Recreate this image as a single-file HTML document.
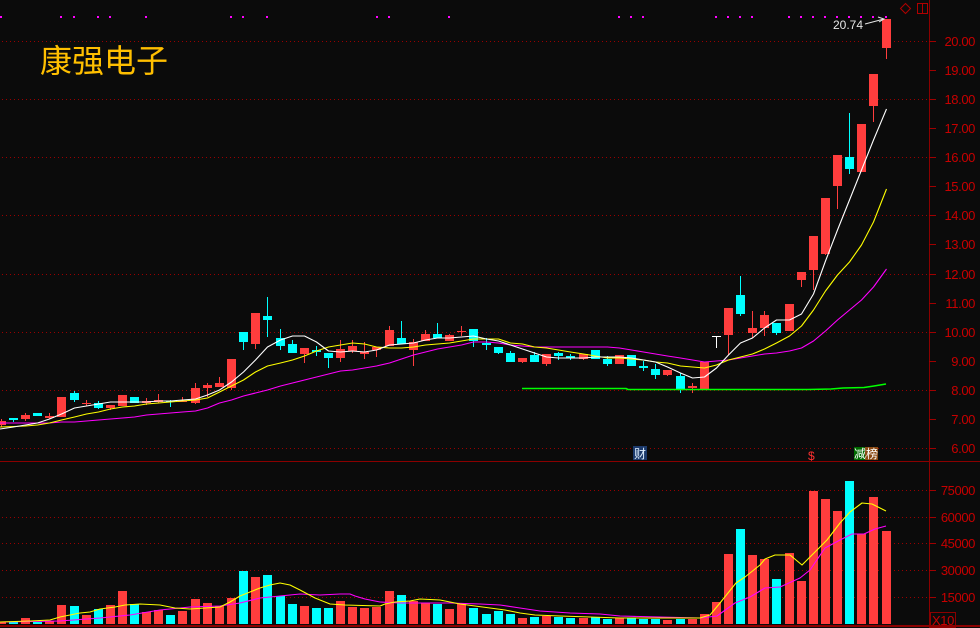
<!DOCTYPE html>
<html><head><meta charset="utf-8"><style>
html,body{margin:0;padding:0;background:#0b0b0b;}
svg{display:block;}
.r{fill:#ff3d3d}.c{fill:#00ffff}.w{fill:#ffffff}
.ax{font-family:"Liberation Sans",sans-serif;font-size:13px;fill:#c80000;letter-spacing:-0.4px}
</style></head><body>
<svg width="980" height="628" viewBox="0 0 980 628" xmlns="http://www.w3.org/2000/svg">
<rect width="980" height="628" fill="#0b0b0b"/>
<g stroke="#9a0000" stroke-width="1" stroke-dasharray="1 3">
<line x1="2" y1="41.5" x2="929" y2="41.5"/><line x1="2" y1="99.5" x2="929" y2="99.5"/><line x1="2" y1="157.5" x2="929" y2="157.5"/><line x1="2" y1="215.5" x2="929" y2="215.5"/><line x1="2" y1="274.5" x2="929" y2="274.5"/><line x1="2" y1="332.5" x2="929" y2="332.5"/><line x1="2" y1="390.5" x2="929" y2="390.5"/><line x1="2" y1="448.5" x2="929" y2="448.5"/>
<line x1="2" y1="490.5" x2="929" y2="490.5"/><line x1="2" y1="517.5" x2="929" y2="517.5"/><line x1="2" y1="543.5" x2="929" y2="543.5"/><line x1="2" y1="570.5" x2="929" y2="570.5"/><line x1="2" y1="597.5" x2="929" y2="597.5"/>
</g>
<g fill="#ff00ff" shape-rendering="crispEdges">
<rect x="0" y="16" width="2" height="2"/><rect x="60" y="16" width="2" height="2"/><rect x="73" y="16" width="2" height="2"/><rect x="97" y="16" width="2" height="2"/><rect x="109" y="16" width="2" height="2"/><rect x="145" y="16" width="2" height="2"/><rect x="230" y="16" width="2" height="2"/><rect x="242" y="16" width="2" height="2"/><rect x="266" y="16" width="2" height="2"/><rect x="376" y="16" width="2" height="2"/><rect x="388" y="16" width="2" height="2"/><rect x="448" y="16" width="2" height="2"/><rect x="618" y="16" width="2" height="2"/><rect x="630" y="16" width="2" height="2"/><rect x="642" y="16" width="2" height="2"/><rect x="715" y="16" width="2" height="2"/><rect x="727" y="16" width="2" height="2"/><rect x="739" y="16" width="2" height="2"/><rect x="751" y="16" width="2" height="2"/><rect x="788" y="16" width="2" height="2"/><rect x="800" y="16" width="2" height="2"/><rect x="812" y="16" width="2" height="2"/><rect x="824" y="16" width="2" height="2"/><rect x="836" y="16" width="2" height="2"/><rect x="848" y="16" width="2" height="2"/><rect x="860" y="16" width="2" height="2"/><rect x="872" y="16" width="2" height="2"/><rect x="885" y="16" width="2" height="2"/>
</g>
<text x="40" y="72" font-family="'Liberation Sans','Noto Sans CJK SC',sans-serif" font-size="32" fill="#ffbf00">康强电子</text>
<!-- candles -->
<g shape-rendering="crispEdges">
<rect class="r" x="-3" y="421" width="9" height="4"/><rect class="r" x="1" y="419" width="1" height="8"/>
<rect class="c" x="9" y="418" width="9" height="2"/><rect class="c" x="13" y="418" width="1" height="4"/>
<rect class="r" x="21" y="415" width="9" height="4"/><rect class="r" x="25" y="413" width="1" height="8"/>
<rect class="c" x="33" y="413" width="9" height="3"/>
<rect class="r" x="45" y="416" width="9" height="2"/><rect class="r" x="49" y="413" width="1" height="6"/>
<rect class="r" x="57" y="397" width="9" height="20"/>
<rect class="c" x="70" y="393" width="9" height="7"/><rect class="c" x="74" y="391" width="1" height="11"/>
<rect class="r" x="82" y="403" width="9" height="1"/><rect class="r" x="86" y="400" width="1" height="6"/>
<rect class="c" x="94" y="403" width="9" height="5"/><rect class="c" x="98" y="401" width="1" height="8"/>
<rect class="r" x="106" y="405" width="9" height="3"/><rect class="r" x="110" y="405" width="1" height="5"/>
<rect class="r" x="118" y="395" width="9" height="11"/>
<rect class="c" x="130" y="397" width="9" height="6"/>
<rect class="r" x="142" y="401" width="9" height="2"/><rect class="r" x="146" y="398" width="1" height="7"/>
<rect class="r" x="154" y="400" width="9" height="2"/><rect class="r" x="158" y="394" width="1" height="9"/>
<rect class="c" x="166" y="401" width="9" height="1"/><rect class="c" x="170" y="400" width="1" height="7"/>
<rect class="r" x="178" y="401" width="9" height="1"/><rect class="r" x="182" y="397" width="1" height="5"/>
<rect class="r" x="191" y="388" width="9" height="15"/><rect class="r" x="195" y="383" width="1" height="21"/>
<rect class="r" x="203" y="385" width="9" height="3"/><rect class="r" x="207" y="383" width="1" height="14"/>
<rect class="r" x="215" y="383" width="9" height="4"/><rect class="r" x="219" y="377" width="1" height="10"/>
<rect class="r" x="227" y="359" width="9" height="29"/><rect class="r" x="231" y="359" width="1" height="31"/>
<rect class="c" x="239" y="332" width="9" height="10"/><rect class="c" x="243" y="332" width="1" height="18"/>
<rect class="r" x="251" y="313" width="9" height="31"/><rect class="r" x="255" y="313" width="1" height="36"/>
<rect class="c" x="263" y="316" width="9" height="4"/><rect class="c" x="267" y="297" width="1" height="40"/>
<rect class="c" x="276" y="338" width="9" height="8"/><rect class="c" x="280" y="329" width="1" height="21"/>
<rect class="c" x="288" y="344" width="9" height="9"/><rect class="c" x="292" y="340" width="1" height="13"/>
<rect class="r" x="300" y="348" width="9" height="6"/><rect class="r" x="304" y="348" width="1" height="15"/>
<rect class="c" x="312" y="350" width="9" height="2"/><rect class="c" x="316" y="346" width="1" height="10"/>
<rect class="c" x="324" y="353" width="9" height="5"/><rect class="c" x="328" y="353" width="1" height="15"/>
<rect class="r" x="336" y="349" width="9" height="9"/><rect class="r" x="340" y="340" width="1" height="22"/>
<rect class="r" x="348" y="346" width="9" height="5"/><rect class="r" x="352" y="340" width="1" height="13"/>
<rect class="r" x="360" y="352" width="9" height="2"/><rect class="r" x="364" y="342" width="1" height="17"/>
<rect class="r" x="372" y="347" width="9" height="3"/><rect class="r" x="376" y="347" width="1" height="10"/>
<rect class="r" x="385" y="330" width="9" height="16"/><rect class="r" x="389" y="326" width="1" height="20"/>
<rect class="c" x="397" y="338" width="9" height="6"/><rect class="c" x="401" y="321" width="1" height="23"/>
<rect class="r" x="409" y="342" width="9" height="8"/><rect class="r" x="413" y="339" width="1" height="27"/>
<rect class="r" x="421" y="334" width="9" height="7"/><rect class="r" x="425" y="330" width="1" height="11"/>
<rect class="c" x="433" y="334" width="9" height="4"/><rect class="c" x="437" y="323" width="1" height="15"/>
<rect class="r" x="445" y="335" width="9" height="6"/><rect class="r" x="449" y="334" width="1" height="7"/>
<rect class="r" x="457" y="331" width="9" height="1"/><rect class="r" x="461" y="326" width="1" height="10"/>
<rect class="c" x="469" y="329" width="9" height="12"/><rect class="c" x="473" y="329" width="1" height="18"/>
<rect class="c" x="482" y="343" width="9" height="2"/><rect class="c" x="486" y="338" width="1" height="12"/>
<rect class="c" x="494" y="347" width="9" height="6"/><rect class="c" x="498" y="347" width="1" height="7"/>
<rect class="c" x="506" y="353" width="9" height="9"/><rect class="c" x="510" y="351" width="1" height="11"/>
<rect class="r" x="518" y="358" width="9" height="4"/><rect class="r" x="522" y="358" width="1" height="5"/>
<rect class="c" x="530" y="355" width="9" height="7"/><rect class="c" x="534" y="352" width="1" height="10"/>
<rect class="r" x="542" y="354" width="9" height="10"/><rect class="r" x="546" y="354" width="1" height="12"/>
<rect class="c" x="554" y="353" width="9" height="3"/><rect class="c" x="558" y="352" width="1" height="8"/>
<rect class="c" x="566" y="356" width="9" height="2"/><rect class="c" x="570" y="354" width="1" height="6"/>
<rect class="r" x="579" y="354" width="9" height="5"/><rect class="r" x="583" y="354" width="1" height="6"/>
<rect class="c" x="591" y="350" width="9" height="9"/>
<rect class="c" x="603" y="359" width="9" height="5"/><rect class="c" x="607" y="356" width="1" height="10"/>
<rect class="r" x="615" y="355" width="9" height="9"/>
<rect class="c" x="627" y="355" width="9" height="11"/>
<rect class="c" x="639" y="366" width="9" height="2"/><rect class="c" x="643" y="361" width="1" height="10"/>
<rect class="c" x="651" y="369" width="9" height="6"/><rect class="c" x="655" y="364" width="1" height="15"/>
<rect class="r" x="663" y="370" width="9" height="5"/><rect class="r" x="667" y="370" width="1" height="6"/>
<rect class="c" x="676" y="376" width="9" height="13"/><rect class="c" x="680" y="373" width="1" height="20"/>
<rect class="r" x="688" y="386" width="9" height="2"/><rect class="r" x="692" y="383" width="1" height="10"/>
<rect class="r" x="700" y="362" width="9" height="28"/>
<rect class="w" x="712" y="336" width="9" height="1"/><rect class="w" x="716" y="336" width="1" height="12"/>
<rect class="r" x="724" y="308" width="9" height="27"/><rect class="r" x="728" y="308" width="1" height="47"/>
<rect class="c" x="736" y="295" width="9" height="19"/><rect class="c" x="740" y="276" width="1" height="40"/>
<rect class="r" x="748" y="328" width="9" height="5"/><rect class="r" x="752" y="311" width="1" height="27"/>
<rect class="r" x="760" y="315" width="9" height="13"/><rect class="r" x="764" y="311" width="1" height="25"/>
<rect class="c" x="772" y="323" width="9" height="10"/><rect class="c" x="776" y="323" width="1" height="12"/>
<rect class="r" x="785" y="304" width="9" height="27"/>
<rect class="r" x="797" y="272" width="9" height="8"/><rect class="r" x="801" y="272" width="1" height="15"/>
<rect class="r" x="809" y="236" width="9" height="34"/><rect class="r" x="813" y="236" width="1" height="54"/>
<rect class="r" x="821" y="198" width="9" height="56"/><rect class="r" x="825" y="198" width="1" height="57"/>
<rect class="r" x="833" y="155" width="9" height="31"/><rect class="r" x="837" y="155" width="1" height="54"/>
<rect class="c" x="845" y="157" width="9" height="12"/><rect class="c" x="849" y="113" width="1" height="61"/>
<rect class="r" x="857" y="124" width="9" height="48"/>
<rect class="r" x="869" y="74" width="9" height="32"/><rect class="r" x="873" y="74" width="1" height="48"/>
<rect class="r" x="882" y="19" width="9" height="29"/><rect class="r" x="886" y="19" width="1" height="40"/>
</g>
<!-- MA lines -->
<g fill="none" stroke-width="1.1" stroke-linejoin="round">
<polyline stroke="#ff00ff" points="0,423 13.5,423 25.5,423 37.5,423 49.5,423 61.5,422 74.5,422 86.5,421 98.5,420 110.5,419 122.5,418 134.5,417 146.5,415 158.5,414 170.5,413 182.5,412 195.5,411 207.5,408 219.5,403 231.5,400 243.5,396 255.5,393 267.5,390 280.5,386 292.5,383 304.5,380 316.5,377 328.5,374 340.5,371 352.5,370 364.5,368 376.5,366 389.5,363 401.5,359 413.5,355 425.5,352 437.5,349 449.5,347 461.5,345 473.5,342 486.5,342 498.5,343 510.5,345 522.5,346 534.5,347 546.5,347 558.5,347 570.5,347 583.5,347 595.5,347 607.5,347 619.5,348 631.5,350 643.5,352 655.5,354 667.5,356 680.5,358 692.5,360 704.5,362 716.5,361 728.5,360 740.5,358 752.5,356 764.5,354 776.5,353 789.5,351 801.5,348 813.5,341 825.5,331 837.5,320 849.5,310 861.5,300 873.5,287 886.5,269"/>
<polyline stroke="#ffff00" points="0,427 13.5,426.5 25.5,426 37.5,425 49.5,423 61.5,420 74.5,417 86.5,414 98.5,412 110.5,409 122.5,407 134.5,406 146.5,404 158.5,403 170.5,402 182.5,401 195.5,400 207.5,398 219.5,392 231.5,386 243.5,380 255.5,372 267.5,366 280.5,363 292.5,360 304.5,356 316.5,351 328.5,347 340.5,345 352.5,343 364.5,344 376.5,347 389.5,348 401.5,348 413.5,347 425.5,345 437.5,344 449.5,343 461.5,341 473.5,339 486.5,339 498.5,339 510.5,343 522.5,344 534.5,347 546.5,348 558.5,350 570.5,352 583.5,354 595.5,356 607.5,358 619.5,358 631.5,359 643.5,360 655.5,362 667.5,363 680.5,366 692.5,367 704.5,368 716.5,365 728.5,360 740.5,357 752.5,354 764.5,349 776.5,343 789.5,336 801.5,326 813.5,310 825.5,291 837.5,275 849.5,262 861.5,245 873.5,222 886.5,189"/>
<polyline stroke="#ffffff" points="0,429 13.5,427 25.5,425 37.5,423 49.5,419 61.5,414 74.5,408 86.5,406 98.5,404 110.5,402 122.5,402 134.5,402 146.5,402 158.5,401 170.5,401 182.5,400 195.5,399 207.5,395 219.5,390 231.5,382 243.5,372 255.5,360 267.5,347 280.5,340 292.5,336 304.5,336 316.5,342 328.5,351 340.5,352 352.5,351 364.5,352 376.5,350 389.5,345 401.5,344 413.5,343 425.5,340 437.5,338 449.5,338 461.5,337 473.5,336 486.5,339 498.5,341 510.5,345 522.5,349 534.5,353 546.5,357 558.5,358 570.5,358 583.5,358 595.5,357 607.5,357 619.5,357 631.5,358 643.5,360 655.5,362 667.5,367 680.5,373 692.5,378 704.5,377 716.5,368 728.5,355 740.5,343 752.5,338 764.5,328 776.5,320 789.5,320 801.5,314 813.5,294 825.5,261 837.5,230 849.5,200 861.5,170 873.5,140 886.5,109"/>
<polyline stroke="#00ff00" stroke-width="1.6" points="522,388.5 626,388.5 628,389.5 808,389.5 831,389 843,388 864,387.5 874,386 886,384"/>
</g>
<!-- volume -->
<g shape-rendering="crispEdges">
<rect class="r" x="-3" y="622" width="9" height="2"/><rect class="c" x="9" y="622" width="9" height="2"/><rect class="r" x="21" y="618" width="9" height="6"/><rect class="c" x="33" y="622" width="9" height="2"/><rect class="r" x="45" y="621" width="9" height="3"/><rect class="r" x="57" y="605" width="9" height="19"/><rect class="c" x="70" y="606" width="9" height="18"/><rect class="r" x="82" y="615" width="9" height="9"/><rect class="c" x="94" y="609" width="9" height="15"/><rect class="r" x="106" y="605" width="9" height="19"/><rect class="r" x="118" y="591" width="9" height="33"/><rect class="c" x="130" y="604" width="9" height="20"/><rect class="r" x="142" y="612" width="9" height="12"/><rect class="r" x="154" y="610" width="9" height="14"/><rect class="c" x="166" y="615" width="9" height="9"/><rect class="r" x="178" y="611" width="9" height="13"/><rect class="r" x="191" y="599" width="9" height="25"/><rect class="r" x="203" y="603" width="9" height="21"/><rect class="r" x="215" y="606" width="9" height="18"/><rect class="r" x="227" y="598" width="9" height="26"/><rect class="c" x="239" y="571" width="9" height="53"/><rect class="r" x="251" y="577" width="9" height="47"/><rect class="c" x="263" y="575" width="9" height="49"/><rect class="c" x="276" y="596" width="9" height="28"/><rect class="c" x="288" y="604" width="9" height="20"/><rect class="r" x="300" y="606" width="9" height="18"/><rect class="c" x="312" y="608" width="9" height="16"/><rect class="c" x="324" y="608" width="9" height="16"/><rect class="r" x="336" y="601" width="9" height="23"/><rect class="r" x="348" y="607" width="9" height="17"/><rect class="r" x="360" y="608" width="9" height="16"/><rect class="r" x="372" y="607" width="9" height="17"/><rect class="r" x="385" y="591" width="9" height="33"/><rect class="c" x="397" y="595" width="9" height="29"/><rect class="r" x="409" y="601" width="9" height="23"/><rect class="r" x="421" y="603" width="9" height="21"/><rect class="c" x="433" y="604" width="9" height="20"/><rect class="r" x="445" y="609" width="9" height="15"/><rect class="r" x="457" y="603" width="9" height="21"/><rect class="c" x="469" y="608" width="9" height="16"/><rect class="c" x="482" y="614" width="9" height="10"/><rect class="c" x="494" y="611" width="9" height="13"/><rect class="c" x="506" y="614" width="9" height="10"/><rect class="r" x="518" y="618" width="9" height="6"/><rect class="c" x="530" y="617" width="9" height="7"/><rect class="r" x="542" y="616" width="9" height="8"/><rect class="c" x="554" y="617" width="9" height="7"/><rect class="c" x="566" y="618" width="9" height="6"/><rect class="r" x="579" y="618" width="9" height="6"/><rect class="c" x="591" y="617" width="9" height="7"/><rect class="c" x="603" y="619" width="9" height="5"/><rect class="r" x="615" y="618" width="9" height="6"/><rect class="c" x="627" y="618" width="9" height="6"/><rect class="c" x="639" y="619" width="9" height="5"/><rect class="c" x="651" y="619" width="9" height="5"/><rect class="r" x="663" y="620" width="9" height="4"/><rect class="c" x="676" y="619" width="9" height="5"/><rect class="r" x="688" y="619" width="9" height="5"/><rect class="r" x="700" y="614" width="9" height="10"/><rect class="r" x="712" y="602" width="9" height="22"/><rect class="r" x="724" y="554" width="9" height="70"/><rect class="c" x="736" y="529" width="9" height="95"/><rect class="r" x="748" y="555" width="9" height="69"/><rect class="r" x="760" y="559" width="9" height="65"/><rect class="c" x="772" y="579" width="9" height="45"/><rect class="r" x="785" y="553" width="9" height="71"/><rect class="r" x="797" y="581" width="9" height="43"/><rect class="r" x="809" y="491" width="9" height="133"/><rect class="r" x="821" y="499" width="9" height="125"/><rect class="r" x="833" y="511" width="9" height="113"/><rect class="c" x="845" y="481" width="9" height="143"/><rect class="r" x="857" y="534" width="9" height="90"/><rect class="r" x="869" y="497" width="9" height="127"/><rect class="r" x="882" y="531" width="9" height="93"/>
</g>
<g fill="none" stroke-width="1.1" stroke-linejoin="round">
<polyline stroke="#ff00ff" points="0,622 60,621 100,618 130,615 160,610 190,607 220,606 240,603 260,598 280,596 300,594 320,595 340,594 350,594 355,596 365,599 380,602 400,603 450,603 480,604 500,605 520,608 540,611 570,613 600,614 620,616 660,617 700,618 717,616 735,603 750,597 765,588 780,587 800,578 810,570 825,548 840,540 852,534 864,534 875,529 886,526"/>
<polyline stroke="#ffff00" points="0,622 30,621 50,620 60,617 70,615 80,613 90,612 100,609 115,607 125,605 140,604 160,605 175,608 190,609 205,608 220,607 230,602 240,596 250,592 260,588 270,585 280,583 290,585 300,590 315,598 330,604 345,605 380,606 385,604 395,602 410,601 420,599 440,600 450,602 460,604 475,606 490,608 505,610 520,613 535,615 560,616 590,617 620,618 700,618 710,615 720,603 736,583 745,577 760,565 765,559 775,555 790,555 802,565 817,550 827,540 840,523 850,512 862,503 872,504 886,511"/>
</g>
<!-- axes -->
<g shape-rendering="crispEdges" fill="#8b0000">
<rect x="929" y="0" width="1" height="628"/>
<rect x="0" y="461" width="980" height="1"/>
<rect x="0" y="625" width="980" height="2"/>
</g>
<g stroke="#a00000" stroke-width="1" shape-rendering="crispEdges">
<line x1="929" y1="41.5" x2="936" y2="41.5"/><line x1="929" y1="70.5" x2="936" y2="70.5"/><line x1="929" y1="99.5" x2="936" y2="99.5"/><line x1="929" y1="128.5" x2="936" y2="128.5"/><line x1="929" y1="157.5" x2="936" y2="157.5"/><line x1="929" y1="186.5" x2="936" y2="186.5"/><line x1="929" y1="215.5" x2="936" y2="215.5"/><line x1="929" y1="244.5" x2="936" y2="244.5"/><line x1="929" y1="274.5" x2="936" y2="274.5"/><line x1="929" y1="303.5" x2="936" y2="303.5"/><line x1="929" y1="332.5" x2="936" y2="332.5"/><line x1="929" y1="361.5" x2="936" y2="361.5"/><line x1="929" y1="390.5" x2="936" y2="390.5"/><line x1="929" y1="419.5" x2="936" y2="419.5"/><line x1="929" y1="448.5" x2="936" y2="448.5"/>
<line x1="929" y1="490.5" x2="936" y2="490.5"/><line x1="929" y1="517.5" x2="936" y2="517.5"/><line x1="929" y1="543.5" x2="936" y2="543.5"/><line x1="929" y1="570.5" x2="936" y2="570.5"/><line x1="929" y1="597.5" x2="936" y2="597.5"/>
</g>
<g class="ax" text-anchor="end">
<text x="975" y="46">20.00</text><text x="975" y="75">19.00</text><text x="975" y="104">18.00</text><text x="975" y="133">17.00</text><text x="975" y="162">16.00</text><text x="975" y="191">15.00</text><text x="975" y="220">14.00</text><text x="975" y="249">13.00</text><text x="975" y="279">12.00</text><text x="975" y="308">11.00</text><text x="975" y="337">10.00</text><text x="975" y="366">9.00</text><text x="975" y="395">8.00</text><text x="975" y="424">7.00</text><text x="975" y="453">6.00</text>
<text x="975" y="495">75000</text><text x="975" y="522">60000</text><text x="975" y="548">45000</text><text x="975" y="575">30000</text><text x="975" y="602">15000</text>
</g>
<rect x="930.5" y="612.5" width="25" height="15" fill="none" stroke="#8b0000"/>
<text x="932" y="625" class="ax">X10</text>
<!-- top right icons -->
<polygon points="905.5,3.5 910.5,8.5 905.5,13.5 900.5,8.5" fill="none" stroke="#b00000"/>
<rect x="917.5" y="3.5" width="10" height="10" fill="none" stroke="#b00000"/>
<line x1="922.5" y1="3.5" x2="922.5" y2="13.5" stroke="#b00000"/>
<!-- high price label -->
<text x="833" y="29" font-family="'Liberation Sans',sans-serif" font-size="12" fill="#e6e6e6">20.74</text>
<polyline points="865,24 884,19" fill="none" stroke="#e6e6e6" stroke-width="1"/>
<polyline points="878,17 884,19 879,22" fill="none" stroke="#e6e6e6" stroke-width="1"/>
<!-- markers -->
<rect x="633" y="446" width="14" height="14" fill="#1c3a6c"/>
<text x="634" y="458" font-family="'Liberation Sans','Noto Sans CJK SC',sans-serif" font-size="12" fill="#e0f0ff">财</text>
<text x="808" y="460" font-family="'Liberation Sans',sans-serif" font-size="12" fill="#ff3030">$</text>
<rect x="854" y="447" width="11" height="13" fill="#006a00"/>
<rect x="865" y="447" width="13" height="13" fill="#8b4a14"/>
<text x="854" y="458" font-family="'Liberation Sans','Noto Sans CJK SC',sans-serif" font-size="12" fill="#ffffff">减榜</text>
</svg>
</body></html>
